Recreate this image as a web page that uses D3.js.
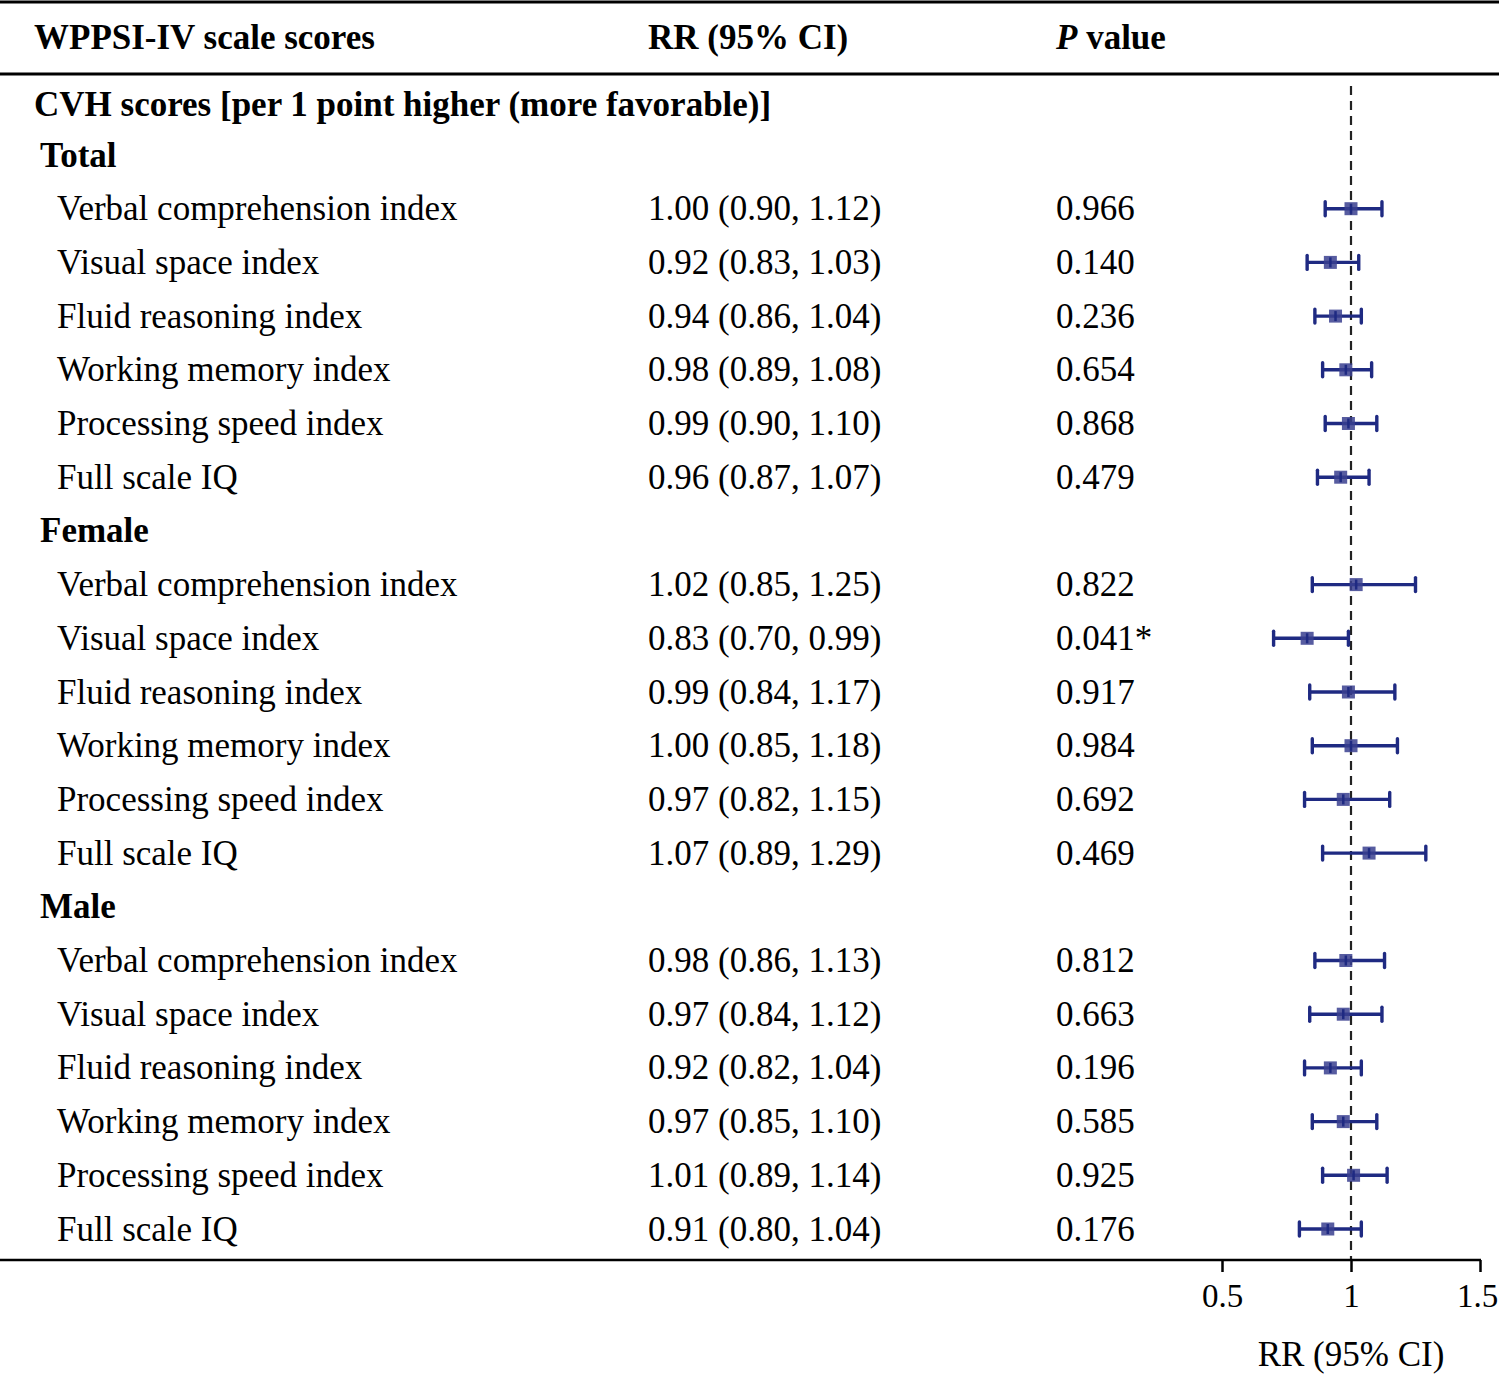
<!DOCTYPE html>
<html>
<head>
<meta charset="utf-8">
<script src="https://cdn.jsdelivr.net/npm/d3@7"></script>
<style>
  body { margin: 0; background: #fff; }
  text { font-family: "Liberation Serif", "Times New Roman", serif; fill: #000; }
</style>
</head>
<body>
<svg id="chart"></svg>
<script>
// data
const groups = ["Total", "Female", "Male"];
const indices = ["Verbal comprehension index", "Visual space index", "Fluid reasoning index",
  "Working memory index", "Processing speed index", "Full scale IQ"];
const rr = [
  [1.00, 0.92, 0.94, 0.98, 0.99, 0.96],
  [1.02, 0.83, 0.99, 1.00, 0.97, 1.07],
  [0.98, 0.97, 0.92, 0.97, 1.01, 0.91]
];
const lower = [
  [0.90, 0.83, 0.86, 0.89, 0.90, 0.87],
  [0.85, 0.70, 0.84, 0.85, 0.82, 0.89],
  [0.86, 0.84, 0.82, 0.85, 0.89, 0.80]
];
const upper = [
  [1.12, 1.03, 1.04, 1.08, 1.10, 1.07],
  [1.25, 0.99, 1.17, 1.18, 1.15, 1.29],
  [1.13, 1.12, 1.04, 1.10, 1.14, 1.04]
];
const pvals = [
  ["0.966", "0.140", "0.236", "0.654", "0.868", "0.479"],
  ["0.822", "0.041*", "0.917", "0.984", "0.692", "0.469"],
  ["0.812", "0.663", "0.196", "0.585", "0.925", "0.176"]
];
const xTicks = [0.5, 1, 1.5];

const W = 1499, H = 1374;
const svg = d3.select("#chart").attr("width", W).attr("height", H);

// flatten into rows: group header then 6 index rows
const rows = [];
groups.forEach((g, gi) => {
  rows.push({ type: "group", label: g });
  indices.forEach((name, i) => {
    rows.push({
      type: "item", label: name, rr: rr[gi][i], lo: lower[gi][i], hi: upper[gi][i],
      p: pvals[gi][i]
    });
  });
});

const y = d3.scaleLinear().domain([0, rows.length - 1]).range([155, 1229]);
const x = d3.scaleLinear().domain([0.5, 1.5]).range([1222, 1480]);

const fs = 35;
const navy = "#1f2a82";

// table rules
svg.append("line").attr("x1", 0).attr("x2", W).attr("y1", 2).attr("y2", 2)
  .attr("stroke", "#000").attr("stroke-width", 3);
svg.append("line").attr("x1", 0).attr("x2", W).attr("y1", 74).attr("y2", 74)
  .attr("stroke", "#000").attr("stroke-width", 3);

// header
const header = svg.append("g").style("font-weight", "bold").style("font-size", fs + "px");
header.append("text").attr("x", 34).attr("y", 49).text("WPPSI-IV scale scores");
header.append("text").attr("x", 648).attr("y", 49).text("RR (95% CI)");
const pv = header.append("text").attr("x", 1056).attr("y", 49);
pv.append("tspan").style("font-style", "italic").text("P");
pv.append("tspan").text(" value");

svg.append("text").attr("x", 34).attr("y", 116)
  .style("font-weight", "bold").style("font-size", fs + "px")
  .text("CVH scores [per 1 point higher (more favorable)]");

// reference line at RR = 1
svg.append("line")
  .attr("x1", x(1)).attr("x2", x(1)).attr("y1", 86).attr("y2", 1260)
  .attr("stroke", "#222").attr("stroke-width", 2.2).attr("stroke-dasharray", "9,6");

// row texts
const rowG = svg.selectAll("g.row").data(rows).enter().append("g")
  .attr("class", "row")
  .attr("transform", (d, i) => `translate(0,${y(i)})`);

rowG.filter(d => d.type === "group").append("text")
  .attr("x", 40).attr("dy", "0.33em")
  .style("font-weight", "bold").style("font-size", fs + "px")
  .text(d => d.label);

const items = rowG.filter(d => d.type === "item");
items.append("text").attr("x", 57).attr("dy", "0.33em").style("font-size", fs + "px")
  .text(d => d.label);
items.append("text").attr("x", 648).attr("dy", "0.33em").style("font-size", fs + "px")
  .text(d => `${d.rr.toFixed(2)} (${d.lo.toFixed(2)}, ${d.hi.toFixed(2)})`);
items.append("text").attr("x", 1056).attr("dy", "0.33em").style("font-size", fs + "px")
  .text(d => d.p);

// forest marks
const cap = 7;
items.append("line")
  .attr("x1", d => x(d.lo)).attr("x2", d => x(d.hi)).attr("y1", 0).attr("y2", 0)
  .attr("stroke", navy).attr("stroke-width", 3.4);
items.append("line")
  .attr("x1", d => x(d.lo)).attr("x2", d => x(d.lo)).attr("y1", -cap).attr("y2", cap)
  .attr("stroke", navy).attr("stroke-width", 3.4).attr("stroke-linecap", "round");
items.append("line")
  .attr("x1", d => x(d.hi)).attr("x2", d => x(d.hi)).attr("y1", -cap).attr("y2", cap)
  .attr("stroke", navy).attr("stroke-width", 3.4).attr("stroke-linecap", "round");
items.append("rect")
  .attr("x", d => x(d.rr) - 6.5).attr("y", -6.5).attr("width", 13).attr("height", 13)
  .attr("fill", "#3a3f8f").attr("fill-opacity", 0.85);
items.append("line")
  .attr("x1", d => x(d.rr)).attr("x2", d => x(d.rr)).attr("y1", -5).attr("y2", 5)
  .attr("stroke", navy).attr("stroke-width", 2.5);

// bottom axis
svg.append("line").attr("x1", 0).attr("x2", x(1.5) + 1).attr("y1", 1260).attr("y2", 1260)
  .attr("stroke", "#000").attr("stroke-width", 2.5);
const axis = svg.append("g").attr("transform", "translate(0,1260)")
  .call(d3.axisBottom(x).tickValues(xTicks).tickSize(12).tickFormat(d3.format("")));
axis.select(".domain").remove();
axis.selectAll(".tick line").attr("stroke", "#000").attr("stroke-width", 2.5);
axis.selectAll(".tick text")
  .style("font-family", "'Liberation Serif', serif").style("font-size", "33px")
  .attr("fill", "#000").attr("y", 24).attr("dy", "0.71em")
  .attr("dx", d => d === 1.5 ? -3 : 0);

svg.append("text").attr("x", x(1)).attr("y", 1366).attr("text-anchor", "middle")
  .style("font-size", fs + "px").text("RR (95% CI)");
</script>
</body>
</html>
